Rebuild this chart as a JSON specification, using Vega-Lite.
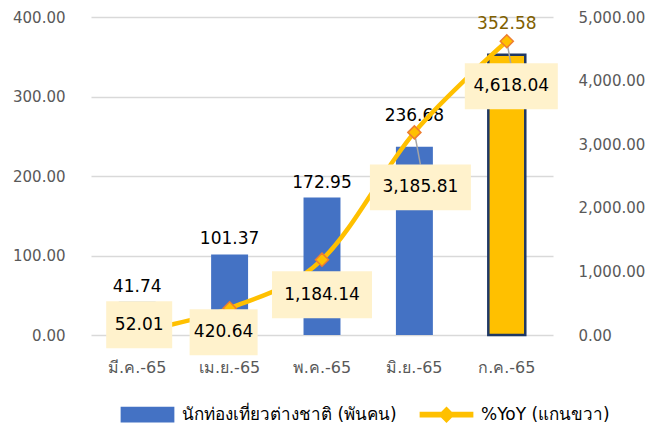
{
  "$schema": "https://vega.github.io/schema/vega-lite/v6.json",
  "width": 462,
  "height": 318,
  "autosize": "none",
  "padding": {"left": 91, "top": 17, "right": 102, "bottom": 89},
  "background": "white",
  "config": {"view": {"stroke": null}, "font": "DejaVu Sans"},
  "data": {"values": [
    {"month": "มี.ค.-65", "tourists": 41.74, "yoy": 52.01},
    {"month": "เม.ย.-65", "tourists": 101.37, "yoy": 420.64},
    {"month": "พ.ค.-65", "tourists": 172.95, "yoy": 1184.14},
    {"month": "มิ.ย.-65", "tourists": 236.68, "yoy": 3185.81},
    {"month": "ก.ค.-65", "tourists": 352.58, "yoy": 4618.04}
  ]},
  "encoding": {
    "x": {"field": "month", "type": "nominal", "sort": null,
      "scale": {"paddingInner": 0.6, "paddingOuter": 0.3},
      "axis": {"title": null, "labelAngle": 0, "domain": false, "ticks": false, "grid": false,
        "labelPadding": 24, "labelColor": "#595959", "labelFontSize": 16}}
  },
  "layer": [
    {
      "encoding": {
        "y": {"field": "tourists", "type": "quantitative", "scale": {"domain": [0, 400]},
          "axis": {"title": null, "orient": "left", "values": [0, 100, 200, 300, 400], "format": ".2f",
            "domain": false, "ticks": false, "labelPadding": 26, "grid": true, "gridColor": "#D9D9D9",
            "gridWidth": 1.3, "labelColor": "#595959", "labelFontSize": 15}}
      },
      "layer": [
        {"transform": [{"filter": "datum.month !== 'ก.ค.-65'"}],
         "mark": {"type": "bar"},
         "encoding": {"color": {"datum": "นักท่องเที่ยวต่างชาติ (พันคน)",
           "scale": {"domain": ["นักท่องเที่ยวต่างชาติ (พันคน)", "%YoY (แกนขวา)"], "range": ["#4472C4", "#FFC000"]},
           "legend": {"title": null, "orient": "none", "legendX": 28, "legendY": 369, "direction": "horizontal",
             "labelFontSize": 17, "labelColor": "#000000", "labelOffset": 6, "columnPadding": 20,
             "labelLimit": 0, "symbolSize": 3025, "padding": 0,
             "encode": {"symbols": {"update": {
               "shape": {"signal": "datum.value === '%YoY (แกนขวา)' ? 'M-0.95,-0.075H0.95V0.075H-0.95Z M0,-0.26L0.26,0L0,0.26L-0.26,0Z' : 'M-0.95,-0.26H0.95V0.26H-0.95Z'"},
               "fill": {"signal": "datum.value === '%YoY (แกนขวา)' ? '#FFC000' : '#4472C4'"},
               "stroke": {"value": "transparent"},
               "opacity": {"value": 1},
               "size": {"value": 3025}
             }}}}}}},
        {"transform": [{"filter": "datum.month === 'ก.ค.-65'"}],
         "mark": {"type": "bar", "fill": "#FFC000", "stroke": "#1F3864", "strokeWidth": 2.5}},
        {"transform": [{"filter": "datum.tourists < 200"}],
         "mark": {"type": "text", "fontSize": 17, "dy": -15, "color": "#000000"},
         "encoding": {"text": {"field": "tourists", "type": "quantitative", "format": ".2f"}}},
        {"transform": [{"filter": "datum.tourists >= 200"}],
         "mark": {"type": "text", "fontSize": 17, "dy": -31},
         "encoding": {"text": {"field": "tourists", "type": "quantitative", "format": ".2f"},
           "color": {"condition": {"test": "datum.month === 'ก.ค.-65'", "value": "#806000"}, "value": "#000000"}}}
      ]
    },
    {
      "encoding": {
        "y": {"field": "yoy", "type": "quantitative", "scale": {"domain": [0, 5000]},
          "axis": {"title": null, "orient": "right", "values": [0, 1000, 2000, 3000, 4000, 5000], "format": ",.2f",
            "domain": false, "ticks": false, "labelPadding": 25, "grid": false,
            "labelColor": "#595959", "labelFontSize": 15}}
      },
      "layer": [
        {"mark": {"type": "line", "strokeWidth": 4.5, "interpolate": "cardinal", "tension": 0},
         "encoding": {"color": {"datum": "%YoY (แกนขวา)"}}},
        {"transform": [{"filter": "datum.month === 'มิ.ย.-65'"}],
         "mark": {"type": "rule", "color": "#A5A5A5", "strokeWidth": 1.5, "x2Offset": 6, "y2Offset": 32},
         "encoding": {"x2": {"field": "month"}, "y2": {"field": "yoy"}}},
        {"transform": [{"filter": "datum.month === 'ก.ค.-65'"}],
         "mark": {"type": "rule", "color": "#A5A5A5", "strokeWidth": 1.5, "x2Offset": 4, "y2Offset": 22},
         "encoding": {"x2": {"field": "month"}, "y2": {"field": "yoy"}}},
        {"mark": {"type": "point", "shape": "diamond", "filled": true, "fill": "#FFC000", "stroke": "#ED7D31",
          "strokeWidth": 1.5, "size": 170, "opacity": 1}},
        {"transform": [{"filter": "datum.month === 'มี.ค.-65'"}],
         "mark": {"type": "point", "shape": "M-1,-0.712H1V0.712H-1Z", "size": 4356, "filled": true,
           "fill": "#FFF2CC", "strokeWidth": 0, "opacity": 1, "xOffset": 2, "yOffset": -7}},
        {"transform": [{"filter": "datum.month === 'เม.ย.-65'"}],
         "mark": {"type": "point", "shape": "M-1,-0.676H1V0.676H-1Z", "size": 4624, "filled": true,
           "fill": "#FFF2CC", "strokeWidth": 0, "opacity": 1, "xOffset": -6, "yOffset": 24}},
        {"transform": [{"filter": "datum.month === 'พ.ค.-65'"}],
         "mark": {"type": "point", "shape": "M-1,-0.47H1V0.47H-1Z", "size": 10000, "filled": true,
           "fill": "#FFF2CC", "strokeWidth": 0, "opacity": 1, "xOffset": 0, "yOffset": 35}},
        {"transform": [{"filter": "datum.month === 'มิ.ย.-65'"}],
         "mark": {"type": "point", "shape": "M-1,-0.455H1V0.455H-1Z", "size": 10201, "filled": true,
           "fill": "#FFF2CC", "strokeWidth": 0, "opacity": 1, "xOffset": 6, "yOffset": 55}},
        {"transform": [{"filter": "datum.month === 'ก.ค.-65'"}],
         "mark": {"type": "point", "shape": "M-1,-0.495H1V0.495H-1Z", "size": 8649, "filled": true,
           "fill": "#FFF2CC", "strokeWidth": 0, "opacity": 1, "xOffset": 4.5, "yOffset": 45}},
        {"transform": [{"filter": "datum.month === 'มี.ค.-65'"}],
         "mark": {"type": "text", "fontSize": 17, "color": "#000000", "baseline": "middle", "xOffset": 2, "yOffset": -7},
         "encoding": {"text": {"field": "yoy", "type": "quantitative", "format": ",.2f"}}},
        {"transform": [{"filter": "datum.month === 'เม.ย.-65'"}],
         "mark": {"type": "text", "fontSize": 17, "color": "#000000", "baseline": "middle", "xOffset": -6, "yOffset": 24},
         "encoding": {"text": {"field": "yoy", "type": "quantitative", "format": ",.2f"}}},
        {"transform": [{"filter": "datum.month === 'พ.ค.-65'"}],
         "mark": {"type": "text", "fontSize": 17, "color": "#000000", "baseline": "middle", "xOffset": 0, "yOffset": 35},
         "encoding": {"text": {"field": "yoy", "type": "quantitative", "format": ",.2f"}}},
        {"transform": [{"filter": "datum.month === 'มิ.ย.-65'"}],
         "mark": {"type": "text", "fontSize": 17, "color": "#000000", "baseline": "middle", "xOffset": 6, "yOffset": 55},
         "encoding": {"text": {"field": "yoy", "type": "quantitative", "format": ",.2f"}}},
        {"transform": [{"filter": "datum.month === 'ก.ค.-65'"}],
         "mark": {"type": "text", "fontSize": 17, "color": "#000000", "baseline": "middle", "xOffset": 4.5, "yOffset": 45},
         "encoding": {"text": {"field": "yoy", "type": "quantitative", "format": ",.2f"}}}
      ]
    }
  ],
  "resolve": {"scale": {"y": "independent"}}
}
